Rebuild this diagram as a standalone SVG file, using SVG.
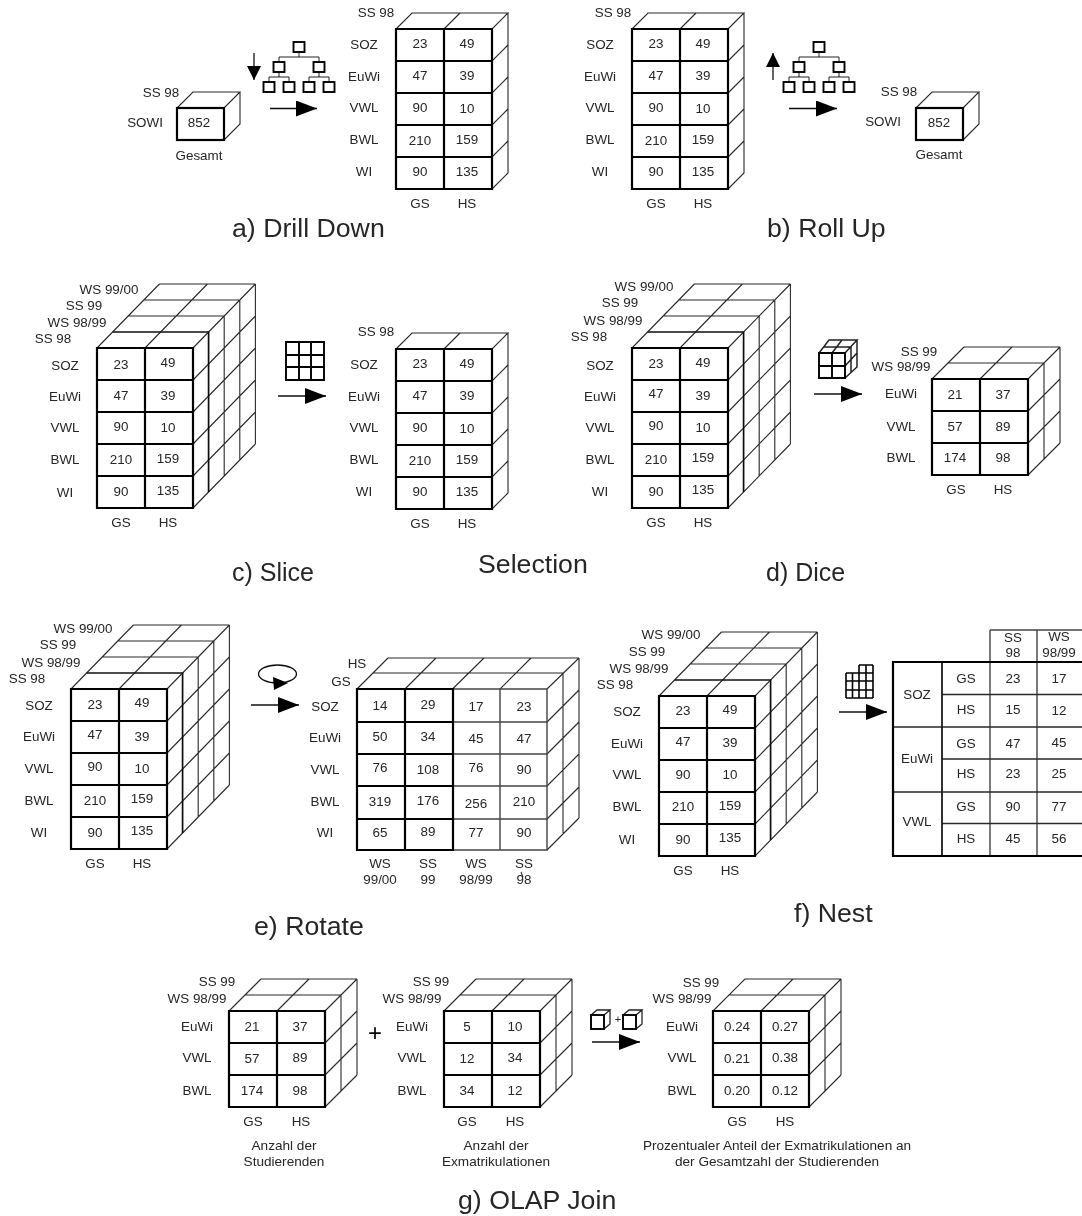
<svg xmlns="http://www.w3.org/2000/svg" width="1082" height="1216" viewBox="0 0 1082 1216">
<style>
text{font-family:"Liberation Sans",Arial,sans-serif;fill:#262626}
.t{font-size:13.400px;text-anchor:middle}
.c{font-size:13.600px;text-anchor:middle}
.h{font-size:26.700px}
.h2{font-size:25px}
.thin{fill:none;stroke:#2a2a2a;stroke-width:1.1}
.mid{fill:none;stroke:#111;stroke-width:1.7}
.thick{fill:none;stroke:#000;stroke-width:2.2}
.gray{fill:none;stroke:#444;stroke-width:1.4}
.conn{stroke:#111;stroke-width:1.3;fill:none}
.icon{fill:none;stroke:#000;stroke-width:1.9}
.icont{fill:none;stroke:#222;stroke-width:1}
</style>
<defs>
<filter id="soft" x="0" y="0" width="100%" height="100%"><feGaussianBlur stdDeviation="0.35"/></filter>
<marker id="head" markerUnits="userSpaceOnUse" markerWidth="22" markerHeight="18" refX="21" refY="8" orient="auto"><path d="M0 0L21 8L0 16Z" fill="#000"/></marker>
<marker id="headS" markerUnits="userSpaceOnUse" markerWidth="15" markerHeight="15" refX="14" refY="7" orient="auto"><path d="M0 0L14 7L0 14Z" fill="#000"/></marker>
<g id="box"><path class="thin" d="M0 0L16 -16H63L47 0M63 -16V16L47 32"/><rect class="thick" width="47" height="32"/></g>
<g id="c5d1"><path class="thin" d="M0 0L16 -16H112L96 0M48 0L64 -16M112 -16V144L96 160M96 32L112 16M96 64L112 48M96 96L112 80M96 128L112 112"/><path class="thick" d="M0 0H96V160H0ZM48 0V160M0 32H96M0 64H96M0 96H96M0 128H96"/></g>
<g id="c5d4"><path class="thin" d="M0 0L62.400 -64M48 0L110.400 -64M96 0L158.400 -64M31.200 -32H127.200M46.800 -48H142.800M62.400 -64H158.400M127.200 -32V128M142.800 -48V112M158.400 -64V96M96 32L158.400 -32M96 64L158.400 0M96 96L158.400 32M96 128L158.400 64M96 160L158.400 96"/><path class="mid" d="M15.600 -16H111.600V144"/><path class="thick" d="M0 0H96V160H0ZM48 0V160M0 32H96M0 64H96M0 96H96M0 128H96"/></g>
<g id="c3d2"><path class="thin" d="M0 0L32 -32M48 0L80 -32M96 0L128 -32M16 -16H112M32 -32H128M112 -16V80M128 -32V64M96 32L128 0M96 64L128 32M96 96L128 64"/><path class="thick" d="M0 0H96V96H0ZM48 0V96M0 32H96M0 64H96"/></g>
<g id="tree"><path class="icont" d="M0 11V15M-20 15H20M-20 15V20M20 15V20M-20 30V35M20 30V35M-30 35H-10M10 35H30M-30 35V40M-10 35V40M10 35V40M30 35V40"/><rect class="icon" x="-5.500" width="11" height="10"/><rect class="icon" x="-25.500" y="20" width="11" height="10"/><rect class="icon" x="14.500" y="20" width="11" height="10"/><rect class="icon" x="-35.500" y="40" width="11" height="10"/><rect class="icon" x="-15.500" y="40" width="11" height="10"/><rect class="icon" x="4.500" y="40" width="11" height="10"/><rect class="icon" x="24.500" y="40" width="11" height="10"/></g>
<g id="mini"><path class="icont" style="stroke-width:1.3" d="M0 0L6 -5H19L13 0M19 -5V9L13 14"/><rect class="icon" width="13" height="14"/></g>
</defs>
<g id="diagram" filter="url(#soft)">

<g id="connectors">
<line class="conn" x1="270" y1="108.500" x2="317" y2="108.500" marker-end="url(#head)"/>
<line class="conn" x1="254" y1="53" x2="254" y2="80" marker-end="url(#headS)"/>
<line class="conn" x1="789" y1="108.500" x2="837" y2="108.500" marker-end="url(#head)"/>
<line class="conn" x1="773" y1="80" x2="773" y2="53" marker-end="url(#headS)"/>
<line class="conn" x1="278" y1="396" x2="326" y2="396" marker-end="url(#head)"/>
<line class="conn" x1="814" y1="394" x2="862" y2="394" marker-end="url(#head)"/>
<line class="conn" x1="251" y1="705" x2="299" y2="705" marker-end="url(#head)"/>
<line class="conn" x1="839" y1="712" x2="887" y2="712" marker-end="url(#head)"/>
<line class="conn" x1="592" y1="1042" x2="640" y2="1042" marker-end="url(#head)"/>
</g>

<g id="icons">
<use href="#tree" x="299" y="42"/>
<use href="#tree" x="819" y="42"/>
<g id="icon-slice"><path class="icon" d="M286 342H324V380H286ZM299 342V380M311 342V380M286 355H324M286 367H324"/></g>
<g id="icon-dice"><path class="icont" style="stroke-width:1.5" d="M819 353L829 340H857L845 353M832 353L842 340M857 340V367L845 378M845 366L857 353M824 347H851M851 347V372"/><path class="icon" d="M819 353H845V378H819ZM832 353V378M819 366H845"/></g>
<g id="icon-rotate"><ellipse class="conn" cx="277.500" cy="674" rx="19" ry="9"/><path d="M273 677L288 683L274 690Z" fill="#000"/></g>
<g id="icon-nest"><path class="icon" style="stroke-width:1.6" d="M846 673V698M852.500 673V698M859 665V698M866 665V698M873 665V698M859 665H873M846 673H873M846 681H873M846 690H873M846 698H873"/></g>
<g id="icon-join"><use href="#mini" x="591" y="1015"/><use href="#mini" x="623" y="1015"/><text x="618" y="1023" style="font-size:11px;text-anchor:middle">+</text></g>
</g>

<g id="a-box" transform="translate(177,108)"><use href="#box"/>
<text class="t" x="-16" y="-11">SS 98</text><text class="t" x="-32" y="19">SOWI</text><text class="t" x="22" y="19">852</text><text class="t" x="22" y="52">Gesamt</text></g>

<g id="a-cube" transform="translate(396,29)"><use href="#c5d1"/>
<text class="t" x="-20" y="-12">SS 98</text>
<text class="t" x="-32" y="20">SOZ</text><text class="t" x="-32" y="52">EuWi</text><text class="t" x="-32" y="83">VWL</text><text class="t" x="-32" y="115">BWL</text><text class="t" x="-32" y="147">WI</text>
<text class="t" x="24" y="19">23</text><text class="t" x="71" y="19">49</text><text class="t" x="24" y="51">47</text><text class="t" x="71" y="51">39</text><text class="t" x="24" y="83">90</text><text class="t" x="71" y="84">10</text><text class="t" x="24" y="116">210</text><text class="t" x="71" y="115">159</text><text class="t" x="24" y="147">90</text><text class="t" x="71" y="147">135</text>
<text class="t" x="24" y="179">GS</text><text class="t" x="71" y="179">HS</text></g>

<g id="b-cube" transform="translate(632,29)"><use href="#c5d1"/>
<text class="t" x="-19" y="-12">SS 98</text>
<text class="t" x="-32" y="20">SOZ</text><text class="t" x="-32" y="52">EuWi</text><text class="t" x="-32" y="83">VWL</text><text class="t" x="-32" y="115">BWL</text><text class="t" x="-32" y="147">WI</text>
<text class="t" x="24" y="19">23</text><text class="t" x="71" y="19">49</text><text class="t" x="24" y="51">47</text><text class="t" x="71" y="51">39</text><text class="t" x="24" y="83">90</text><text class="t" x="71" y="84">10</text><text class="t" x="24" y="116">210</text><text class="t" x="71" y="115">159</text><text class="t" x="24" y="147">90</text><text class="t" x="71" y="147">135</text>
<text class="t" x="24" y="179">GS</text><text class="t" x="71" y="179">HS</text></g>

<g id="b-box" transform="translate(916,108)"><use href="#box"/>
<text class="t" x="-17" y="-12">SS 98</text><text class="t" x="-33" y="18">SOWI</text><text class="t" x="23" y="19">852</text><text class="t" x="23" y="51">Gesamt</text></g>

<g id="c-cube-left" transform="translate(97,348)"><use href="#c5d4"/>
<text class="t" x="-44" y="-5">SS 98</text><text class="t" x="-20" y="-21">WS 98/99</text><text class="t" x="-13" y="-38">SS 99</text><text class="t" x="12" y="-54">WS 99/00</text>
<text class="t" x="-32" y="22">SOZ</text><text class="t" x="-32" y="53">EuWi</text><text class="t" x="-32" y="84">VWL</text><text class="t" x="-32" y="116">BWL</text><text class="t" x="-32" y="149">WI</text>
<text class="t" x="24" y="21">23</text><text class="t" x="71" y="19">49</text><text class="t" x="24" y="52">47</text><text class="t" x="71" y="52">39</text><text class="t" x="24" y="83">90</text><text class="t" x="71" y="84">10</text><text class="t" x="24" y="116">210</text><text class="t" x="71" y="115">159</text><text class="t" x="24" y="148">90</text><text class="t" x="71" y="147">135</text>
<text class="t" x="24" y="179">GS</text><text class="t" x="71" y="179">HS</text></g>

<g id="c-cube-right" transform="translate(396,349)"><use href="#c5d1"/>
<text class="t" x="-20" y="-13">SS 98</text>
<text class="t" x="-32" y="20">SOZ</text><text class="t" x="-32" y="52">EuWi</text><text class="t" x="-32" y="83">VWL</text><text class="t" x="-32" y="115">BWL</text><text class="t" x="-32" y="147">WI</text>
<text class="t" x="24" y="19">23</text><text class="t" x="71" y="19">49</text><text class="t" x="24" y="51">47</text><text class="t" x="71" y="51">39</text><text class="t" x="24" y="83">90</text><text class="t" x="71" y="84">10</text><text class="t" x="24" y="116">210</text><text class="t" x="71" y="115">159</text><text class="t" x="24" y="147">90</text><text class="t" x="71" y="147">135</text>
<text class="t" x="24" y="179">GS</text><text class="t" x="71" y="179">HS</text></g>

<g id="d-cube-left" transform="translate(632,348)"><use href="#c5d4"/>
<text class="t" x="-43" y="-7">SS 98</text><text class="t" x="-19" y="-23">WS 98/99</text><text class="t" x="-12" y="-41">SS 99</text><text class="t" x="12" y="-57">WS 99/00</text>
<text class="t" x="-32" y="22">SOZ</text><text class="t" x="-32" y="53">EuWi</text><text class="t" x="-32" y="84">VWL</text><text class="t" x="-32" y="116">BWL</text><text class="t" x="-32" y="148">WI</text>
<text class="t" x="24" y="20">23</text><text class="t" x="71" y="19">49</text><text class="t" x="24" y="50">47</text><text class="t" x="71" y="52">39</text><text class="t" x="24" y="82">90</text><text class="t" x="71" y="84">10</text><text class="t" x="24" y="116">210</text><text class="t" x="71" y="114">159</text><text class="t" x="24" y="148">90</text><text class="t" x="71" y="146">135</text>
<text class="t" x="24" y="179">GS</text><text class="t" x="71" y="179">HS</text></g>

<g id="d-cube-right" transform="translate(932,379)"><use href="#c3d2"/>
<text class="t" x="-13" y="-23">SS 99</text><text class="t" x="-31" y="-8">WS 98/99</text>
<text class="t" x="-31" y="19">EuWi</text><text class="t" x="-31" y="52">VWL</text><text class="t" x="-31" y="83">BWL</text>
<text class="t" x="23" y="20">21</text><text class="t" x="71" y="20">37</text><text class="t" x="23" y="52">57</text><text class="t" x="71" y="52">89</text><text class="t" x="23" y="83">174</text><text class="t" x="71" y="83">98</text>
<text class="t" x="24" y="115">GS</text><text class="t" x="71" y="115">HS</text></g>

<g id="e-cube-left" transform="translate(71,689)"><use href="#c5d4"/>
<text class="t" x="-44" y="-6">SS 98</text><text class="t" x="-20" y="-22">WS 98/99</text><text class="t" x="-13" y="-40">SS 99</text><text class="t" x="12" y="-56">WS 99/00</text>
<text class="t" x="-32" y="21">SOZ</text><text class="t" x="-32" y="52">EuWi</text><text class="t" x="-32" y="84">VWL</text><text class="t" x="-32" y="116">BWL</text><text class="t" x="-32" y="148">WI</text>
<text class="t" x="24" y="20">23</text><text class="t" x="71" y="18">49</text><text class="t" x="24" y="50">47</text><text class="t" x="71" y="52">39</text><text class="t" x="24" y="82">90</text><text class="t" x="71" y="84">10</text><text class="t" x="24" y="116">210</text><text class="t" x="71" y="114">159</text><text class="t" x="24" y="148">90</text><text class="t" x="71" y="146">135</text>
<text class="t" x="24" y="179">GS</text><text class="t" x="71" y="179">HS</text></g>

<g id="e-cube-right">
<path class="thin" d="M357 689L388 658M405 689L436 658M452.500 689L484 658M500 689L531 658M547 689L579 658M373 673H563M388 658H579M563 673V833M579 658V818M547 722L579 690M547 754L579 722M547 786L579 754M547 819L579 787M547 850L579 818"/>
<path class="gray" d="M453 689H547V850H453M500 689V850M453 722H547M453 754H547M453 786H547M453 819H547"/>
<path class="thick" d="M357 689H453V850H357ZM405 689V850M357 722H453M357 754H453M357 786H453M357 819H453"/>
<line class="thin" x1="521" y1="872" x2="523" y2="877"/>
<text class="t" x="357" y="668">HS</text><text class="t" x="341" y="686">GS</text>
<text class="t" x="325" y="711">SOZ</text><text class="t" x="325" y="742">EuWi</text><text class="t" x="325" y="774">VWL</text><text class="t" x="325" y="806">BWL</text><text class="t" x="325" y="837">WI</text>
<text class="t" x="380" y="710">14</text><text class="t" x="428" y="709">29</text><text class="t" x="476" y="711">17</text><text class="t" x="524" y="711">23</text>
<text class="t" x="380" y="741">50</text><text class="t" x="428" y="741">34</text><text class="t" x="476" y="743">45</text><text class="t" x="524" y="743">47</text>
<text class="t" x="380" y="772">76</text><text class="t" x="428" y="774">108</text><text class="t" x="476" y="772">76</text><text class="t" x="524" y="774">90</text>
<text class="t" x="380" y="806">319</text><text class="t" x="428" y="805">176</text><text class="t" x="476" y="808">256</text><text class="t" x="524" y="806">210</text>
<text class="t" x="380" y="837">65</text><text class="t" x="428" y="836">89</text><text class="t" x="476" y="837">77</text><text class="t" x="524" y="837">90</text>
<text class="t" x="380" y="868">WS</text><text class="t" x="380" y="884">99/00</text><text class="t" x="428" y="868">SS</text><text class="t" x="428" y="884">99</text><text class="t" x="476" y="868">WS</text><text class="t" x="476" y="884">98/99</text><text class="t" x="524" y="868">SS</text><text class="t" x="524" y="884">98</text>
</g>

<g id="f-cube" transform="translate(659,696)"><use href="#c5d4"/>
<text class="t" x="-44" y="-7">SS 98</text><text class="t" x="-20" y="-23">WS 98/99</text><text class="t" x="-12" y="-40">SS 99</text><text class="t" x="12" y="-57">WS 99/00</text>
<text class="t" x="-32" y="20">SOZ</text><text class="t" x="-32" y="52">EuWi</text><text class="t" x="-32" y="83">VWL</text><text class="t" x="-32" y="115">BWL</text><text class="t" x="-32" y="148">WI</text>
<text class="t" x="24" y="19">23</text><text class="t" x="71" y="18">49</text><text class="t" x="24" y="50">47</text><text class="t" x="71" y="51">39</text><text class="t" x="24" y="83">90</text><text class="t" x="71" y="83">10</text><text class="t" x="24" y="115">210</text><text class="t" x="71" y="114">159</text><text class="t" x="24" y="148">90</text><text class="t" x="71" y="146">135</text>
<text class="t" x="24" y="179">GS</text><text class="t" x="71" y="179">HS</text></g>

<g id="f-table">
<path class="gray" d="M990 630V856M1037 630V856M990 630H1082"/>
<path class="thin" style="stroke-width:1.4" d="M942 694.500H1082M942 759H1082M942 823.500H1082M893 727H1082M893 792H1082"/>
<path class="mid" d="M942 662V856"/>
<path class="thick" d="M1082 662H893V856H1082"/>
<text class="t" x="1013" y="642">SS</text><text class="t" x="1013" y="657">98</text><text class="t" x="1059" y="641">WS</text><text class="t" x="1059" y="657">98/99</text>
<text class="t" x="917" y="699">SOZ</text><text class="t" x="917" y="763">EuWi</text><text class="t" x="917" y="826">VWL</text>
<text class="t" x="966" y="683">GS</text><text class="t" x="966" y="714">HS</text><text class="t" x="966" y="748">GS</text><text class="t" x="966" y="778">HS</text><text class="t" x="966" y="811">GS</text><text class="t" x="966" y="843">HS</text>
<text class="t" x="1013" y="683">23</text><text class="t" x="1059" y="683">17</text><text class="t" x="1013" y="714">15</text><text class="t" x="1059" y="715">12</text><text class="t" x="1013" y="748">47</text><text class="t" x="1059" y="747">45</text><text class="t" x="1013" y="778">23</text><text class="t" x="1059" y="778">25</text><text class="t" x="1013" y="811">90</text><text class="t" x="1059" y="811">77</text><text class="t" x="1013" y="843">45</text><text class="t" x="1059" y="843">56</text>
</g>

<g id="g-cube-1" transform="translate(229,1011)"><use href="#c3d2"/>
<text class="t" x="-12" y="-25">SS 99</text><text class="t" x="-32" y="-8">WS 98/99</text>
<text class="t" x="-32" y="20">EuWi</text><text class="t" x="-32" y="51">VWL</text><text class="t" x="-32" y="84">BWL</text>
<text class="t" x="23" y="20">21</text><text class="t" x="71" y="20">37</text><text class="t" x="23" y="52">57</text><text class="t" x="71" y="51">89</text><text class="t" x="23" y="84">174</text><text class="t" x="71" y="84">98</text>
<text class="t" x="24" y="115">GS</text><text class="t" x="72" y="115">HS</text>
<text class="c" x="55" y="139">Anzahl der</text><text class="c" x="55" y="155">Studierenden</text></g>

<text id="g-plus" x="375" y="1041" style="font-size:24px;text-anchor:middle;fill:#000">+</text>

<g id="g-cube-2" transform="translate(444,1011)"><use href="#c3d2"/>
<text class="t" x="-13" y="-25">SS 99</text><text class="t" x="-32" y="-8">WS 98/99</text>
<text class="t" x="-32" y="20">EuWi</text><text class="t" x="-32" y="51">VWL</text><text class="t" x="-32" y="84">BWL</text>
<text class="t" x="23" y="20">5</text><text class="t" x="71" y="20">10</text><text class="t" x="23" y="52">12</text><text class="t" x="71" y="51">34</text><text class="t" x="23" y="84">34</text><text class="t" x="71" y="84">12</text>
<text class="t" x="23" y="115">GS</text><text class="t" x="71" y="115">HS</text>
<text class="c" x="52" y="139">Anzahl der</text><text class="c" x="52" y="155">Exmatrikulationen</text></g>

<g id="g-cube-3" transform="translate(713,1011)"><use href="#c3d2"/>
<text class="t" x="-12" y="-24">SS 99</text><text class="t" x="-31" y="-8">WS 98/99</text>
<text class="t" x="-31" y="20">EuWi</text><text class="t" x="-31" y="51">VWL</text><text class="t" x="-31" y="84">BWL</text>
<text class="t" x="24" y="20">0.24</text><text class="t" x="72" y="20">0.27</text><text class="t" x="24" y="52">0.21</text><text class="t" x="72" y="51">0.38</text><text class="t" x="24" y="84">0.20</text><text class="t" x="72" y="84">0.12</text>
<text class="t" x="24" y="115">GS</text><text class="t" x="72" y="115">HS</text>
<text class="c" x="64" y="139">Prozentualer Anteil der Exmatrikulationen an</text><text class="c" x="64" y="155">der Gesamtzahl der Studierenden</text></g>

<g id="titles">
<text class="h" x="232" y="237">a) Drill Down</text>
<text class="h" x="767" y="237">b) Roll Up</text>
<text class="h2" x="232" y="581">c) Slice</text>
<text class="h" x="478" y="573">Selection</text>
<text class="h2" x="766" y="581">d) Dice</text>
<text class="h" x="254" y="935">e) Rotate</text>
<text class="h" x="794" y="922">f) Nest</text>
<text class="h" x="458" y="1209">g) OLAP Join</text>
</g>
</g>
</svg>
